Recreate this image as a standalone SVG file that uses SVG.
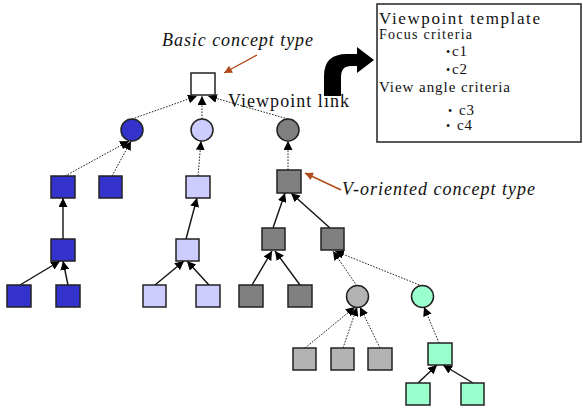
<svg xmlns="http://www.w3.org/2000/svg" width="583" height="409" viewBox="0 0 583 409">
<style>
.n{stroke:#222;stroke-width:1.5}
.w{fill:#fff}.b{fill:#3333cc}.lb{fill:#ccccff}.dg{fill:#808080}.lg{fill:#b3b3b3}.m{fill:#99ffcc}
.s{stroke:#111;stroke-width:1.4;fill:none;marker-end:url(#ah)}
.d{stroke:#222;stroke-width:1;stroke-dasharray:1.6 1.4;fill:none;marker-end:url(#ah)}
.o{stroke:#b04a1a;stroke-width:1.4;fill:none;marker-end:url(#oh)}
.t{font-family:"Liberation Serif",serif;fill:#111}
.i{font-style:italic}
</style>
<defs>
<marker id="ah" viewBox="0 0 10 10" refX="10" refY="5" markerWidth="9" markerHeight="9" markerUnits="userSpaceOnUse" orient="auto"><path d="M0,0 L10,5 L0,10 z" fill="#000"/></marker>
<marker id="oh" viewBox="0 0 10 10" refX="10" refY="5" markerWidth="10" markerHeight="8" markerUnits="userSpaceOnUse" orient="auto"><path d="M0,0 L10,5 L0,10 z" fill="#b04a1a"/></marker>
</defs>
<rect width="583" height="409" fill="#fff"/>
<g id="connectors">
<line class="d" x1="132" y1="119" x2="197" y2="96"/>
<line class="d" x1="202" y1="119" x2="202" y2="96"/>
<line class="d" x1="288" y1="119" x2="208" y2="96"/>
<line class="d" x1="65" y1="176" x2="129" y2="141"/>
<line class="d" x1="112" y1="176" x2="131" y2="141"/>
<line class="d" x1="198" y1="176" x2="201" y2="141"/>
<line class="d" x1="288" y1="170" x2="288" y2="141"/>
<line class="s" x1="63" y1="239" x2="63" y2="198"/>
<line class="s" x1="20" y1="285" x2="60" y2="261"/>
<line class="s" x1="68" y1="285" x2="63" y2="261"/>
<line class="s" x1="186" y1="239" x2="197" y2="198"/>
<line class="s" x1="155" y1="285" x2="184" y2="261"/>
<line class="s" x1="209" y1="285" x2="187" y2="261"/>
<line class="s" x1="273" y1="228" x2="285" y2="193"/>
<line class="s" x1="330" y1="228" x2="291" y2="193"/>
<line class="s" x1="252" y1="285" x2="272" y2="251"/>
<line class="s" x1="300" y1="285" x2="275" y2="251"/>
<line class="d" x1="357" y1="286" x2="333" y2="251"/>
<line class="d" x1="422" y1="286" x2="335" y2="251"/>
<line class="d" x1="305" y1="348" x2="355" y2="307"/>
<line class="d" x1="343" y1="348" x2="357" y2="307"/>
<line class="d" x1="380" y1="348" x2="360" y2="307"/>
<line class="d" x1="439" y1="343" x2="424" y2="307"/>
<line class="s" x1="418" y1="383" x2="437" y2="365"/>
<line class="s" x1="473" y1="383" x2="443" y2="365"/>
<line class="o" x1="257" y1="55" x2="224" y2="73"/>
<line class="o" x1="341" y1="190" x2="305" y2="173"/>
</g>
<g id="root"><rect class="n w" x="191" y="73" width="24" height="22"/></g>
<g id="c-blue"><circle class="n b" cx="132" cy="130" r="11"/></g>
<g id="c-lblue"><circle class="n lb" cx="202" cy="130" r="11"/></g>
<g id="c-gray"><circle class="n dg" cx="288" cy="130" r="11"/></g>
<g id="b1"><rect class="n b" x="51" y="176" width="24" height="22"/></g>
<g id="b2"><rect class="n b" x="99" y="176" width="23" height="22"/></g>
<g id="b3"><rect class="n b" x="51" y="239" width="24" height="22"/></g>
<g id="b4"><rect class="n b" x="7" y="285" width="24" height="22"/></g>
<g id="b5"><rect class="n b" x="56" y="285" width="24" height="22"/></g>
<g id="lb1"><rect class="n lb" x="186" y="176" width="24" height="22"/></g>
<g id="lb2"><rect class="n lb" x="176" y="239" width="23" height="22"/></g>
<g id="lb3"><rect class="n lb" x="143" y="285" width="23" height="22"/></g>
<g id="lb4"><rect class="n lb" x="196" y="285" width="24" height="22"/></g>
<g id="g1"><rect class="n dg" x="277" y="170" width="24" height="23"/></g>
<g id="g2"><rect class="n dg" x="262" y="228" width="23" height="22"/></g>
<g id="g3"><rect class="n dg" x="321" y="228" width="23" height="22"/></g>
<g id="g4"><rect class="n dg" x="239" y="285" width="24" height="22"/></g>
<g id="g5"><rect class="n dg" x="288" y="285" width="24" height="22"/></g>
<g id="c-lgray"><circle class="n lg" cx="357.5" cy="296.5" r="11"/></g>
<g id="c-mint"><circle class="n m" cx="422.5" cy="296.5" r="11"/></g>
<g id="lg1"><rect class="n lg" x="293" y="348" width="23" height="22"/></g>
<g id="lg2"><rect class="n lg" x="331" y="348" width="23" height="22"/></g>
<g id="lg3"><rect class="n lg" x="368" y="348" width="24" height="22"/></g>
<g id="m1"><rect class="n m" x="428" y="343" width="24" height="22"/></g>
<g id="m2"><rect class="n m" x="406" y="383" width="24" height="22"/></g>
<g id="m3"><rect class="n m" x="461" y="383" width="23" height="22"/></g>
<g id="labels">
<text class="t i" x="162" y="46" font-size="18" textLength="151" lengthAdjust="spacing">Basic concept type</text>
<text class="t" x="228" y="107" font-size="18" textLength="121" lengthAdjust="spacing">Viewpoint link</text>
<text class="t i" x="342" y="195" font-size="18" textLength="193" lengthAdjust="spacing">V-oriented concept type</text>
</g>
<g id="bigarrow"><path d="M324,96 L324,76 Q324,54 347,54 L357,54 L357,47 L374,60 L357,73 L357,66 L351,66 Q341,66 341,77 L341,96 Z" fill="#000"/></g>
<g id="template">
<rect x="377" y="4" width="204" height="138" fill="#fff" stroke="#222" stroke-width="1.5"/>
<text class="t" x="379" y="24" font-size="17" textLength="161" lengthAdjust="spacing">Viewpoint template</text>
<text class="t" x="379" y="39" font-size="14" textLength="93" lengthAdjust="spacing">Focus criteria</text>
<text class="t" x="446" y="56" font-size="12">•</text><text class="t" x="452" y="56" font-size="15" textLength="15" lengthAdjust="spacing">c1</text>
<text class="t" x="446" y="74" font-size="12">•</text><text class="t" x="452" y="74" font-size="15" textLength="15" lengthAdjust="spacing">c2</text>
<text class="t" x="379" y="92" font-size="15" textLength="131" lengthAdjust="spacing">View angle criteria</text>
<text class="t" x="448" y="115" font-size="12">•</text><text class="t" x="459" y="115" font-size="15" textLength="15" lengthAdjust="spacing">c3</text>
<text class="t" x="446" y="130" font-size="12">•</text><text class="t" x="457" y="130" font-size="15" textLength="15" lengthAdjust="spacing">c4</text>
</g>
</svg>
